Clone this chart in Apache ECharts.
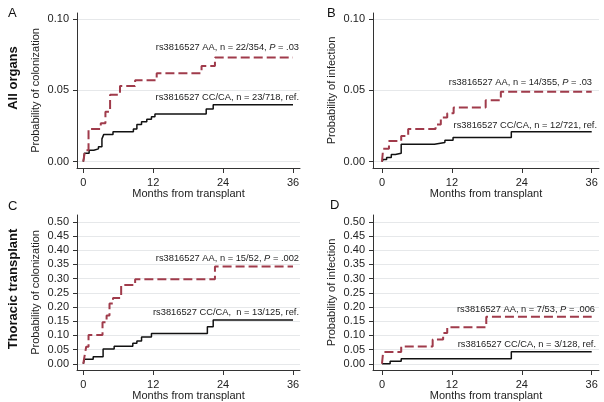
<!DOCTYPE html>
<html>
<head>
<meta charset="utf-8">
<script src="https://cdn.jsdelivr.net/npm/echarts@6/dist/echarts.min.js"></script>
<style>
  html, body { margin: 0; padding: 0; background: #fff; }
  #ec { width: 604px; height: 402px; }
</style>
</head>
<body>
<div id="ec"></div>
<script>
// 刻度
var monthTicks = [0, 12, 24, 36];
var probTicksSmall = [0, 0.05, 0.10];
var probTicksLarge = [0, 0.05, 0.10, 0.15, 0.20, 0.25, 0.30, 0.35, 0.40, 0.45, 0.50];

// 数据 [month, probability] -- 阶梯曲线
var colonAllAA = [[0, 0], [0.3, 0.008], [0.9, 0.023], [3.0, 0.027], [3.8, 0.035], [4.6, 0.047], [6.3, 0.053], [8.9, 0.057], [12.6, 0.062], [20.3, 0.067], [22.6, 0.073], [36, 0.073]];
var colonAllCC = [[0, 0], [0.2, 0.006], [1.0, 0.008], [1.8, 0.009], [2.6, 0.0105], [3.2, 0.016], [3.5, 0.019], [5.1, 0.021], [8.6, 0.023], [9.2, 0.026], [10.0, 0.028], [10.9, 0.0297], [11.7, 0.0315], [12.3, 0.0334], [21.1, 0.037], [22.3, 0.040], [36, 0.040]];
var infAllAA = [[0, 0], [0.2, 0.009], [1.2, 0.0145], [3.3, 0.018], [4.5, 0.023], [9.2, 0.026], [10.1, 0.031], [11.2, 0.034], [12.3, 0.038], [17.8, 0.043], [20.4, 0.049], [36, 0.049]];
var infAllCC = [[0, 0], [0.2, 0.0015], [0.8, 0.003], [1.6, 0.005], [2.3, 0.006], [3.3, 0.0122], [9.0, 0.0135], [10.8, 0.015], [12.2, 0.017], [22.2, 0.021], [36, 0.021]];
var colonThorAA = [[0, 0], [0.2, 0.025], [0.5, 0.06], [0.9, 0.101], [3.3, 0.146], [4.0, 0.17], [4.5, 0.212], [5.1, 0.232], [6.5, 0.277], [8.9, 0.298], [22.6, 0.343], [36, 0.343]];
var colonThorCC = [[0, 0], [0.2, 0.016], [1.7, 0.025], [3.4, 0.052], [5.3, 0.062], [8.5, 0.072], [9.2, 0.080], [10.0, 0.094], [11.7, 0.107], [21.3, 0.13], [22.3, 0.154], [36, 0.154]];
var infThorAA = [[0, 0], [0.2, 0.041], [3.3, 0.061], [8.7, 0.085], [10.5, 0.108], [11.2, 0.129], [17.9, 0.166], [36, 0.166]];
var infThorCC = [[0, 0], [1.4, 0.009], [3.3, 0.018], [22.2, 0.042], [36, 0.042]];

// 文字
var panelLetters = ['A', 'B', 'C', 'D'];
var rowTitles = ['All organs', 'Thoracic transplant'];
var yTitles = ['Probability of colonization', 'Probability of infection', 'Probability of colonization', 'Probability of infection'];
var xTitle = 'Months from transplant';
// [前缀, P值]
var aaNotes = [['rs3816527 AA, n = 22/354, ', ' = .03'], ['rs3816527 AA, n = 14/355, ', ' = .03'], ['rs3816527 AA, n = 15/52, ', ' = .002'], ['rs3816527 AA, n = 7/53, ', ' = .006']];
var ccNotes = ['rs3816527 CC/CA, n = 23/718, ref.', 'rs3816527 CC/CA, n = 12/721, ref.', 'rs3816527 CC/CA,  n = 13/125, ref.', 'rs3816527 CC/CA, n = 3/128, ref.'];

var FONT = "'Liberation Sans', Arial, Helvetica, sans-serif";
var RED = '#a03b4b';
var INK = '#222';
var NOTE_SIZE = 9.3;

var ec = echarts.init(document.getElementById('ec'));

// 布局
var layout = [
  { grid: { left: 77, top: 13, width: 223, height: 155 }, x: [-1.08, 37.2], y: [-0.0044, 0.1042], ticks: probTicksSmall, aa: colonAllAA, cc: colonAllCC,
    letter: [8, 15], aaPos: [299, 47], ccPos: [299, 97] },
  { grid: { left: 373, top: 13, width: 226, height: 155 }, x: [-1.54, 37.25], y: [-0.0044, 0.1042], ticks: probTicksSmall, aa: infAllAA, cc: infAllCC,
    letter: [327, 15], aaPos: [592, 82], ccPos: [597, 125] },
  { grid: { left: 77, top: 215, width: 223, height: 155 }, x: [-1.08, 37.2], y: [-0.022, 0.524], ticks: probTicksLarge, aa: colonThorAA, cc: colonThorCC,
    letter: [8, 208], aaPos: [299, 258], ccPos: [299, 312] },
  { grid: { left: 373, top: 215, width: 226, height: 155 }, x: [-1.54, 37.25], y: [-0.022, 0.524], ticks: probTicksLarge, aa: infThorAA, cc: infThorCC,
    letter: [330, 207], aaPos: [595, 309], ccPos: [596, 344] }
];

var grids = [], xAxes = [], yAxes = [], series = [], graphics = [];

layout.forEach(function(p, i) {
  var g = p.grid;
  g.outerBoundsMode = 'none';
  g.containLabel = false;
  grids.push(g);

  xAxes.push({
    type: 'value', gridIndex: i, min: p.x[0], max: p.x[1],
    name: xTitle, nameLocation: 'middle', nameGap: 19,
    nameTextStyle: { fontFamily: FONT, fontSize: 11, color: INK },
    axisLine: { show: true, onZero: false, lineStyle: { color: '#333', width: 1 } },
    axisTick: { show: true, length: 5, lineStyle: { color: '#333' }, customValues: monthTicks },
    axisLabel: { fontFamily: FONT, fontSize: 11, color: INK, margin: 9, customValues: monthTicks },
    splitLine: { show: false }
  });

  yAxes.push({
    type: 'value', gridIndex: i, min: p.y[0], max: p.y[1],
    name: yTitles[i], nameLocation: 'middle', nameGap: 36,
    nameTextStyle: { fontFamily: FONT, fontSize: 11, color: INK },
    axisLine: { show: true, onZero: false, lineStyle: { color: '#333', width: 1 } },
    axisTick: { show: true, length: 4, lineStyle: { color: '#333' }, customValues: p.ticks },
    axisLabel: { fontFamily: FONT, fontSize: 11, color: INK, margin: 8, customValues: p.ticks,
      formatter: function(v) { return v.toFixed(2); } },
    splitLine: { show: true, lineStyle: { color: '#e6e8ea', width: 1 } }
  });

  series.push({
    type: 'line', xAxisIndex: i, yAxisIndex: i, step: 'end', showSymbol: false, silent: true,
    data: p.cc, lineStyle: { color: '#111', width: 1.5 }, z: 3
  });
  series.push({
    type: 'line', xAxisIndex: i, yAxisIndex: i, step: 'end', showSymbol: false, silent: true,
    data: p.aa, lineStyle: { color: RED, width: 2, type: [9, 4] }, z: 4
  });

  // 面板字母
  graphics.push({
    type: 'text', left: p.letter[0], top: p.letter[1] - 8, z: 100,
    style: { text: panelLetters[i], font: '13px ' + FONT, fill: '#111' }
  });

  // 注释
  graphics.push({
    type: 'text', x: p.aaPos[0], y: p.aaPos[1], z: 100,
    style: {
      text: '{t|' + aaNotes[i][0] + '}{it|P}{t|' + aaNotes[i][1] + '}',
      align: 'right', verticalAlign: 'middle',
      rich: {
        t: { fontFamily: FONT, fontSize: NOTE_SIZE, fill: INK },
        it: { fontFamily: FONT, fontSize: NOTE_SIZE, fontStyle: 'italic', fill: INK }
      }
    }
  });
  graphics.push({
    type: 'text', x: p.ccPos[0], y: p.ccPos[1], z: 100,
    style: { text: ccNotes[i], align: 'right', verticalAlign: 'middle', font: NOTE_SIZE + 'px ' + FONT, fill: INK }
  });
});

// 行标题
graphics.push({
  type: 'text', x: 13, y: 78, rotation: Math.PI / 2, z: 100,
  style: { text: rowTitles[0], align: 'center', verticalAlign: 'middle', font: 'bold 13px ' + FONT, fill: '#111' }
});
graphics.push({
  type: 'text', x: 13, y: 289, rotation: Math.PI / 2, z: 100,
  style: { text: rowTitles[1], align: 'center', verticalAlign: 'middle', font: 'bold 13px ' + FONT, fill: '#111' }
});

ec.setOption({
  backgroundColor: '#fff',
  animation: false,
  grid: grids,
  xAxis: xAxes,
  yAxis: yAxes,
  series: series,
  graphic: graphics
});
</script>
</body>
</html>
